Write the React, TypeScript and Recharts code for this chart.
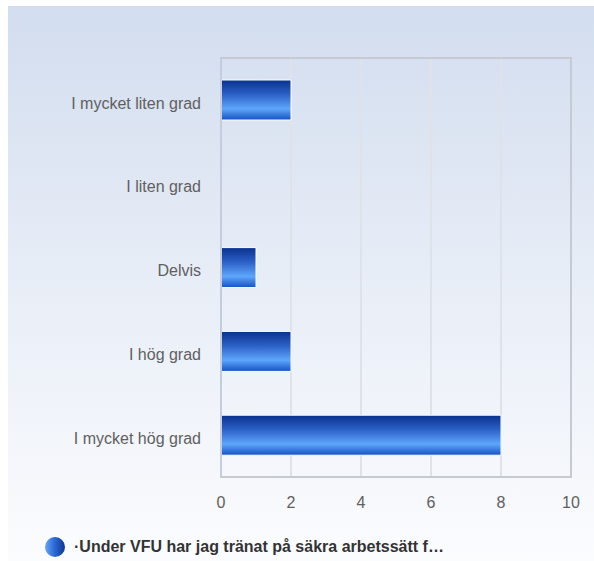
import React from "react";
import { Bar, BarChart, CartesianGrid, Legend, ReferenceArea, XAxis, YAxis } from "recharts";

const categories: string[] = [
  "I mycket liten grad",
  "I liten grad",
  "Delvis",
  "I hög grad",
  "I mycket hög grad",
];
const counts: number[] = [2, 0, 1, 2, 8];
const xTicks: number[] = [0, 2, 4, 6, 8, 10];
const seriesName = "·Under VFU har jag tränat på säkra arbetssätt f…";

const data = categories.map((name, i) => ({ name, value: counts[i] }));

const font = "'Liberation Sans', Arial, sans-serif";

const LegendContent = () => (
  <div style={{ display: "flex", alignItems: "center", fontFamily: font, height: 26 }}>
    <svg width={22} height={22} style={{ marginRight: 8 }}>
      <defs>
        <linearGradient id="legendDot" x1="0" y1="0" x2="1" y2="0">
          <stop offset="0%" stopColor="#6aa6f5" />
          <stop offset="45%" stopColor="#2d6bd6" />
          <stop offset="100%" stopColor="#0c3893" />
        </linearGradient>
      </defs>
      <circle cx={11} cy={11} r={10} fill="url(#legendDot)" />
    </svg>
    <span style={{ fontSize: 16, fontWeight: "bold", color: "#333333" }}>{seriesName}</span>
  </div>
);

const App: React.FC = () => {
  return (
    <div
      style={{
        position: "fixed",
        top: 6,
        left: 8,
        width: 586,
        height: 555,
        background: "linear-gradient(to bottom, #d2ddef 0%, #e6ecf6 45%, #fbfcfe 100%)",
      }}
    >
      <BarChart
        width={586}
        height={555}
        data={data}
        layout="vertical"
        margin={{ top: 52, right: 23, left: 0, bottom: 28 }}
      >
        <defs>
          <linearGradient id="barFill" x1="0" y1="0" x2="0" y2="1">
            <stop offset="0%" stopColor="#0a318d" />
            <stop offset="35%" stopColor="#2a5fc4" />
            <stop offset="72%" stopColor="#5ea6fc" />
            <stop offset="100%" stopColor="#1352c4" />
          </linearGradient>
        </defs>
        <CartesianGrid horizontal={false} stroke="#dfe3e9" strokeWidth={2} />
        <ReferenceArea x1={0} x2={10} fill="none" stroke="#c6cad2" strokeWidth={2} ifOverflow="visible" />
        <XAxis
          type="number"
          domain={[0, 10]}
          ticks={xTicks}
          axisLine={false}
          tickLine={false}
          tickSize={0}
          tickMargin={20}
          height={30}
          tick={{ fill: "#606060", fontSize: 16, fontFamily: font }}
        />
        <YAxis
          type="category"
          dataKey="name"
          width={213}
          axisLine={{ stroke: "#c4cde0", strokeWidth: 2 }}
          tickLine={false}
          tickSize={0}
          tickMargin={20}
          tick={{ fill: "#606060", fontSize: 16, fontFamily: font, dy: 3 }}
        />
        <Legend
          verticalAlign="bottom"
          content={<LegendContent />}
          wrapperStyle={{ left: 36, top: 528, width: 520, height: 26 }}
        />
        <Bar
          dataKey="value"
          name={seriesName}
          fill="url(#barFill)"
          stroke="#ffffff"
          strokeWidth={1}
          barSize={40}
          isAnimationActive={false}
        />
      </BarChart>
    </div>
  );
};

export default App;
